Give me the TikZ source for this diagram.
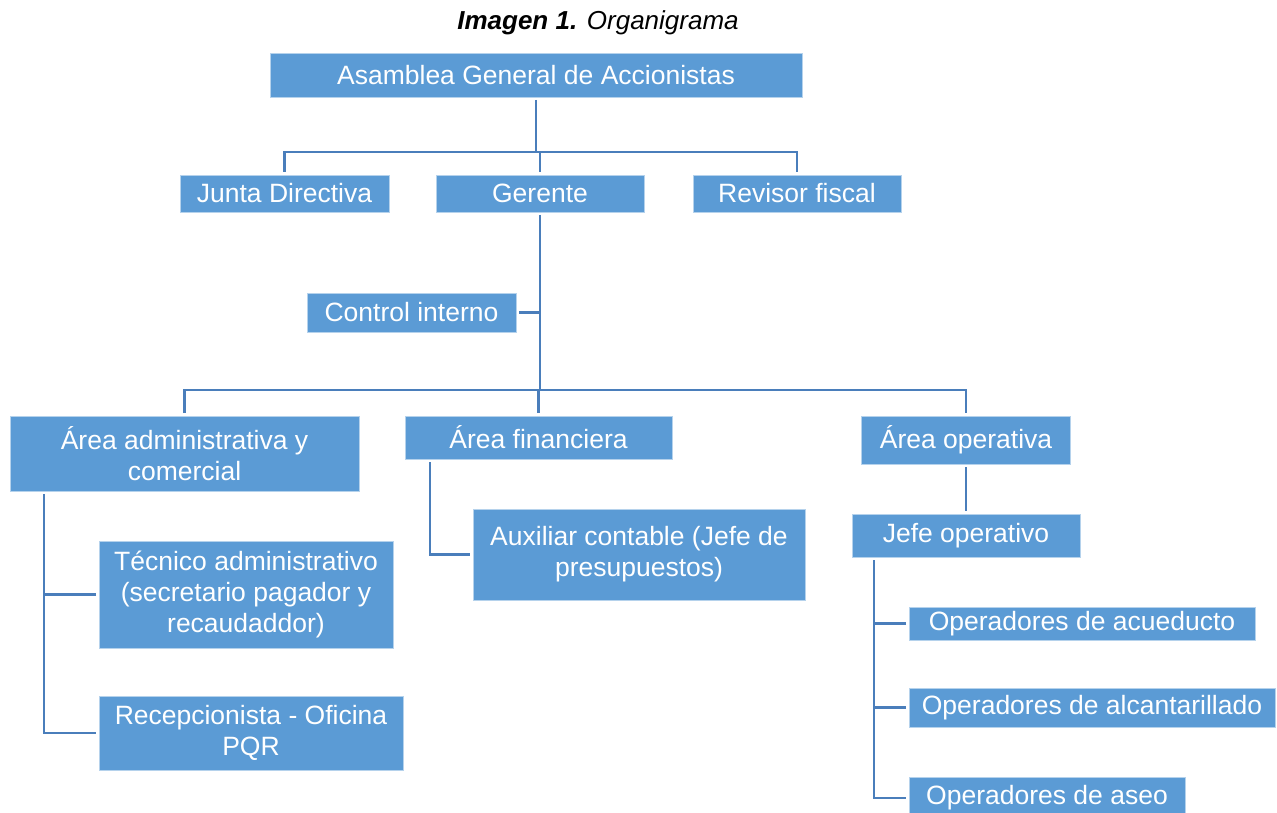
\documentclass[tikz,border=0pt]{standalone}
\usepackage{fontspec}
\setmainfont{Liberation Sans}
\usetikzlibrary{calc}

\definecolor{boxblue}{HTML}{5B9BD5}
\definecolor{lineblue}{HTML}{4A7EBB}

\tikzset{
  orgbox/.style={fill=boxblue, draw=boxblue!45, line width=0.8pt, text=white,
    align=center, inner sep=0pt, outer sep=3pt,
    font=\fontsize{26.5}{31}\selectfont},
  conn/.style={draw=lineblue, line width=2.7pt},
}

\begin{document}
\begin{tikzpicture}[x=1pt,y=-1pt]
    \clip (0,0) rectangle (1277,813);

    \node (titulo) at (598,23) {\fontsize{26}{30}\selectfont\textbf{\textit{Imagen 1.}} \textit{Organigrama}};

    % nivel 1
    \node[orgbox, minimum width=532, minimum height=44] (asamblea) at (536,75) {Asamblea General de Accionistas};

    % nivel 2
    \node[orgbox, minimum width=209, minimum height=37] (junta) at (284.5,193.5) {Junta Directiva};
    \node[orgbox, minimum width=208, minimum height=37] (gerente) at (540,193.5) {Gerente};
    \node[orgbox, minimum width=208, minimum height=37] (revisor) at (797,193.5) {Revisor fiscal};

    \node[orgbox, minimum width=209, minimum height=39] (control) at (411.5,312.5) {Control interno};

    % areas
    \node[orgbox, minimum width=349, minimum height=75] (admin) at (184.5,453.5) {Área administrativa y\\comercial};
    \node[orgbox, minimum width=267, minimum height=43] (finan) at (538.5,437.5) {Área financiera};
    \node[orgbox, minimum width=209, minimum height=48] (oper) at (966,440) {Área operativa};

    \node[orgbox, minimum width=294, minimum height=107] (tecnico) at (246,594.5) {Técnico administrativo\\(secretario pagador y\\recaudaddor)};
    \node[orgbox, minimum width=304, minimum height=74] (recep) at (251,733) {Recepcionista - Oficina\\PQR};

    \node[orgbox, minimum width=332, minimum height=91] (auxiliar) at (639,554.5) {Auxiliar contable (Jefe de\\presupuestos)};

    \node[orgbox, minimum width=228, minimum height=43] (jefeop) at (966,535.5) {Jefe operativo};
    \node[orgbox, minimum width=346, minimum height=33] (acued) at (1082,623.5) {Operadores de acueducto};
    \node[orgbox, minimum width=366, minimum height=39] (alcant) at (1092,707.5) {Operadores de alcantarillado};
    \node[orgbox, minimum width=276, minimum height=42] (aseo) at (1047,798) {Operadores de aseo};

    \coordinate (bus1) at (0,152);
    \coordinate (bus2) at (0,390);
    \coordinate (admx) at (44,0);
    \coordinate (finx) at (430,0);
    \coordinate (jefex) at (874,0);

    \draw[conn] (asamblea.south) -- (asamblea.south |- bus1);
    \draw[conn] (junta.north) |- (revisor.north |- bus1) -- (revisor.north);
    \draw[conn] (gerente.north) -- (gerente.north |- bus1);

    \draw[conn] (gerente.south) -- (gerente.south |- bus2);
    \draw[conn] (control.east) -- (control.east -| gerente.south);
    \draw[conn] (admin.north) |- (oper.north |- bus2) -- (oper.north);
    \draw[conn] (finan.north) -- (finan.north |- bus2);

    \draw[conn] (admin.south -| admx) |- (recep.west);
    \draw[conn] (tecnico.west) -- (tecnico.west -| admx);

    \draw[conn] (finan.south -| finx) |- (auxiliar.west);

    \draw[conn] (oper.south) -- (jefeop.north);
    \draw[conn] (jefeop.south -| jefex) |- (aseo.west);
    \draw[conn] (acued.west) -- (acued.west -| jefex);
    \draw[conn] (alcant.west) -- (alcant.west -| jefex);
\end{tikzpicture}
\end{document}
